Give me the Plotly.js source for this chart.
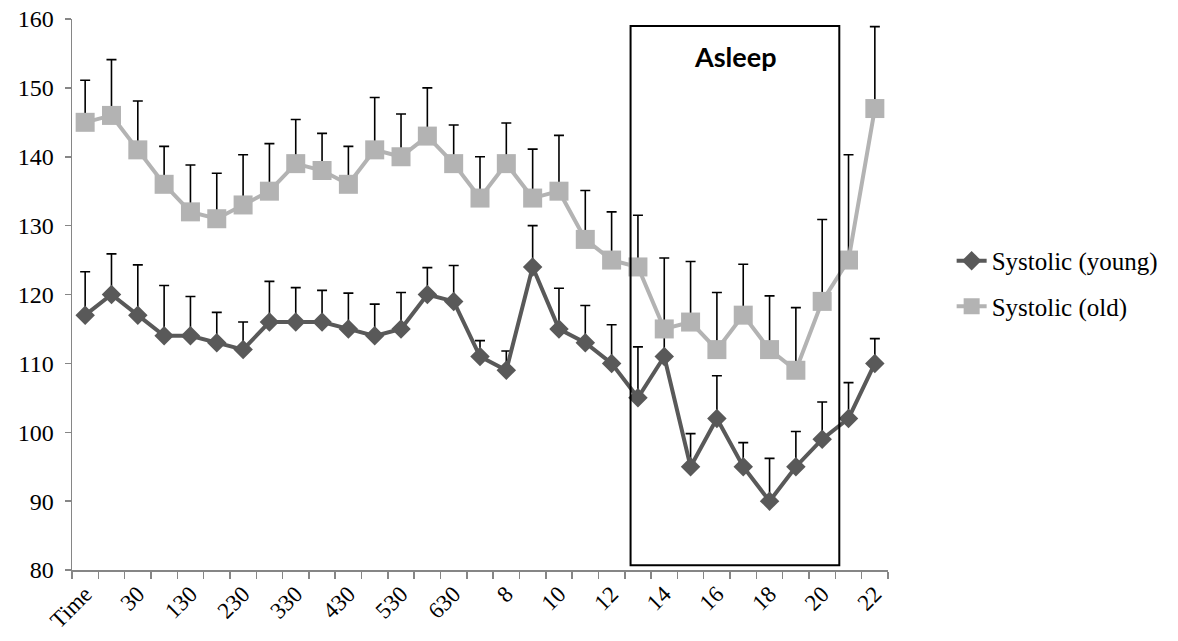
<!DOCTYPE html>
<html>
<head>
<meta charset="utf-8">
<script src="https://cdn.plot.ly/plotly-3.0.1.min.js"></script>
<style>html,body{margin:0;padding:0;background:#fff;}#chart{width:1178px;height:641px;}</style>
</head>
<body>
<div id="chart"></div>
<script>
const categories = ["Time","0","30","100","130","200","230","300","330","400","430","500","530","600","630",
  "7","8","9","10","11","12","13","14","15","16","17","18","19","20","21","22"];
const tickLabels = ["Time","","30","","130","","230","","330","","430","","530","","630",
  "","8","","10","","12","","14","","16","","18","","20","","22"];
const youngValues = [117,120,117,114,114,113,112,116,116,116,115,114,115,120,119,
  111,109,124,115,113,110,105,111,95,102,95,90,95,99,102,110];
const youngErr = [6.3,5.9,7.3,7.3,5.7,4.4,4.0,5.9,5.0,4.6,5.2,4.6,5.3,3.9,5.2,
  2.3,2.8,6.0,5.9,5.4,5.6,7.4,4.5,4.8,6.2,3.5,6.2,5.1,5.4,5.2,3.6];
const oldValues = [145,146,141,136,132,131,133,135,139,138,136,141,140,143,139,
  134,139,134,135,128,125,124,115,116,112,117,112,109,119,125,147];
const oldErr = [6.1,8.1,7.1,5.5,6.8,6.6,7.3,6.9,6.4,5.4,5.5,7.6,6.2,7.0,5.6,
  6.0,5.9,7.1,8.1,7.1,7.0,7.5,10.3,8.8,8.3,7.4,7.8,9.1,11.9,15.3,11.9];

const serif = "'Liberation Serif','Times New Roman',serif";

const traces = [
  {
    x: categories, y: youngValues, name: "Systolic (young)", type: "scatter", mode: "lines+markers",
    legendgroup: "a",
    line: {color: "#595959", width: 4},
    marker: {symbol: "diamond", size: 15, color: "#595959"},
    error_y: {type: "data", array: youngErr, symmetric: false, arrayminus: youngErr.map(() => 0),
      color: "#000", thickness: 1.6, width: 5}
  },
  {
    x: categories, y: oldValues, name: "Systolic (old)", type: "scatter", mode: "lines+markers",
    legendgroup: "b",
    line: {color: "#b3b3b3", width: 4},
    marker: {symbol: "square", size: 19, color: "#b3b3b3"},
    error_y: {type: "data", array: oldErr, symmetric: false, arrayminus: oldErr.map(() => 0),
      color: "#000", thickness: 1.6, width: 5}
  }
];

const layout = {
  width: 1178, height: 641,
  margin: {l: 72, r: 290, t: 19, b: 71},
  paper_bgcolor: "#fff", plot_bgcolor: "#fff",
  font: {family: serif, size: 23, color: "#000"},
  showlegend: true,
  legend: {x: 1.078, y: 0.52, xanchor: "left", yanchor: "middle",
    font: {family: serif, size: 25, color: "#000"},
    traceorder: "grouped", tracegroupgap: 10, itemwidth: 30, bgcolor: "rgba(0,0,0,0)"},
  xaxis: {
    type: "category", range: [-0.5, 30.5],
    tickmode: "array", tickvals: categories, ticktext: tickLabels,
    tickson: "boundaries", ticks: "outside", ticklen: 7, tickcolor: "#868686", tickwidth: 1.5,
    tickangle: -45, tickfont: {family: serif, size: 23},
    showline: true, linecolor: "#868686", linewidth: 1.5,
    showgrid: false, zeroline: false, fixedrange: true
  },
  yaxis: {
    range: [80, 160], tickmode: "linear", tick0: 80, dtick: 10,
    ticks: "outside", ticklen: 6, tickcolor: "#868686", tickwidth: 1.5,
    tickfont: {family: serif, size: 24}, ticklabelstandoff: 6,
    showline: true, linecolor: "#868686", linewidth: 1.5,
    showgrid: false, zeroline: false, fixedrange: true
  },
  shapes: [{
    type: "rect", xref: "x", yref: "y", x0: 20.72, x1: 28.65, y0: 80.7, y1: 159.0,
    line: {color: "#000", width: 2}, fillcolor: "rgba(0,0,0,0)", layer: "above"
  }],
  annotations: [{
    xref: "x", yref: "y", x: 24.7, y: 154.6, text: "<b>Asleep</b>", showarrow: false,
    font: {family: "Lato, 'Open Sans', sans-serif", size: 27, color: "#000"}
  }]
};

Plotly.newPlot("chart", traces, layout, {displayModeBar: false, staticPlot: true});
</script>
</body>
</html>
